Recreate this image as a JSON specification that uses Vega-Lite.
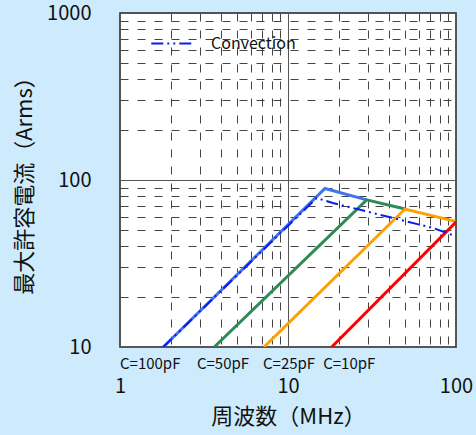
{
  "$schema": "https://vega.github.io/schema/vega-lite/v6.json",
  "width": 336,
  "height": 334,
  "autosize": "none",
  "padding": {"left": 120, "top": 13, "right": 20, "bottom": 88},
  "background": "#cdebfd",
  "config": {
    "font": "Noto Sans CJK JP",
    "view": {"fill": "white", "stroke": "#222", "strokeWidth": 1.5}
  },
  "datasets": {
    "curves": [
      {"c": "100pF", "f": 1.81, "a": 10},
      {"c": "100pF", "f": 16.6, "a": 89},
      {"c": "100pF", "f": 29.4, "a": 76},
      {"c": "50pF", "f": 3.64, "a": 10},
      {"c": "50pF", "f": 29.4, "a": 76},
      {"c": "50pF", "f": 49.7, "a": 67},
      {"c": "25pF", "f": 7.2, "a": 10},
      {"c": "25pF", "f": 49.7, "a": 67},
      {"c": "25pF", "f": 101, "a": 56.3},
      {"c": "10pF", "f": 18.2, "a": 10},
      {"c": "10pF", "f": 101, "a": 56.5}
    ],
    "conv": [
      {"s": "Convection", "f": 1.81, "a": 10},
      {"s": "Convection", "f": 14.8, "a": 78},
      {"s": "Convection", "f": 18.5, "a": 72.8},
      {"s": "Convection", "f": 46.4, "a": 57.8},
      {"s": "Convection", "f": 73, "a": 51.6},
      {"s": "Convection", "f": 100, "a": 46}
    ],
    "labels": [
      {"t": "C=100pF", "f": 1.0, "a": 7.95},
      {"t": "C=50pF", "f": 2.87, "a": 7.95},
      {"t": "C=25pF", "f": 7.1, "a": 7.95},
      {"t": "C=10pF", "f": 16.2, "a": 7.95}
    ]
  },
  "layer": [
    {
      "data": {"name": "curves"},
      "mark": {"type": "line", "strokeWidth": 3, "clip": true},
      "encoding": {
        "x": {
          "field": "f", "type": "quantitative",
          "scale": {"type": "log", "domain": [1, 100]},
          "axis": {
            "title": "周波数（MHz）",
            "values": [1,2,3,4,5,6,7,8,9,10,20,30,40,50,60,70,80,90,100],
            "labelExpr": "(datum.value==1||datum.value==10||datum.value==100) ? format(datum.value, 'd') : ''",
            "ticks": false,
            "domain": false,
            "labelPadding": 29,
            "labelFontSize": 20,
            "labelColor": "#111",
            "labelFlush": false,
            "grid": true,
            "gridColor": {"condition": {"test": "datum.value==10||datum.value==100||datum.value==1", "value": "#555"}, "value": "#444"},
            "gridDash": {"condition": {"test": "datum.value==10||datum.value==100||datum.value==1", "value": []}, "value": [8, 9]},
            "gridWidth": 1,
            "titleFontSize": 22,
            "titleFontWeight": "normal",
            "titleColor": "#111",
            "titlePadding": 10
          }
        },
        "y": {
          "field": "a", "type": "quantitative",
          "scale": {"type": "log", "domain": [10, 1000]},
          "axis": {
            "title": "最大許容電流（Arms）",
            "values": [10,20,30,40,50,60,70,80,90,100,200,300,400,500,600,700,800,900,1000],
            "labelExpr": "(datum.value==10||datum.value==100||datum.value==1000) ? format(datum.value, 'd') : ''",
            "ticks": false,
            "domain": false,
            "labelPadding": 29,
            "labelFontSize": 20,
            "labelColor": "#111",
            "labelFlush": false,
            "grid": true,
            "gridColor": {"condition": {"test": "datum.value==10||datum.value==100||datum.value==1000", "value": "#555"}, "value": "#444"},
            "gridDash": {"condition": {"test": "datum.value==10||datum.value==100||datum.value==1000", "value": []}, "value": [8, 9]},
            "gridWidth": 1,
            "titleFontSize": 22,
            "titleFontWeight": "normal",
            "titleColor": "#111",
            "titlePadding": 10
          }
        },
        "color": {
          "field": "c", "type": "nominal",
          "scale": {"domain": ["100pF", "50pF", "25pF", "10pF"], "range": ["#4272f2", "#2e8b57", "#ffa000", "#ff0000"]},
          "legend": null
        }
      }
    },
    {
      "data": {"name": "conv"},
      "mark": {"type": "line", "strokeWidth": 2, "color": "#0a1cf0", "clip": true},
      "encoding": {
        "x": {"field": "f", "type": "quantitative"},
        "y": {"field": "a", "type": "quantitative"},
        "strokeDash": {
          "field": "s", "type": "nominal",
          "scale": {"range": [[12, 4, 2, 4, 2, 4]]},
          "legend": {
            "title": null,
            "orient": "none",
            "legendX": 30,
            "legendY": 8,
            "symbolType": "stroke",
            "symbolSize": 1800,
            "symbolStrokeWidth": 2,
            "symbolStrokeColor": "#0a1cf0",
            "labelFontSize": 16,
            "labelColor": "#111",
            "labelOffset": 16
          }
        }
      }
    },
    {
      "data": {"name": "labels"},
      "mark": {"type": "text", "align": "left", "baseline": "middle", "fontSize": 15, "color": "#111", "clip": false},
      "encoding": {
        "x": {"field": "f", "type": "quantitative"},
        "y": {"field": "a", "type": "quantitative"},
        "text": {"field": "t"}
      }
    }
  ]
}
